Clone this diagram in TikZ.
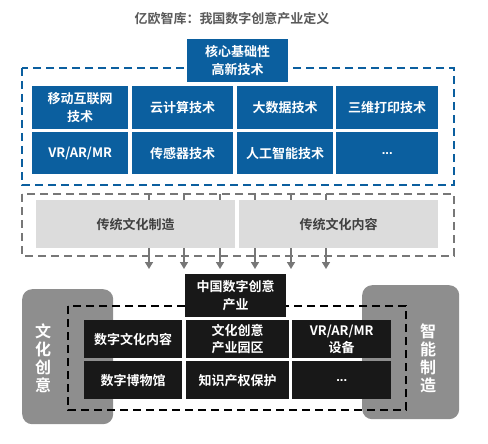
\documentclass[tikz,border=0pt]{standalone}
\usepackage{fontspec}
\setmainfont{Noto Sans CJK SC}[BoldFont={* Bold}]
\newfontfamily\latinfont{Liberation Sans}
\usetikzlibrary{arrows.meta}
\definecolor{cblue}{HTML}{0B5F9F}
\definecolor{clight}{HTML}{DCDCDC}
\definecolor{ctxt}{HTML}{404040}
\definecolor{cside}{HTML}{8E8E8E}
\definecolor{cblack}{HTML}{181818}
\definecolor{carrow}{HTML}{777777}
\definecolor{ctitle}{HTML}{595959}
\tikzset{
  box/.style={minimum width=#1, inner sep=0pt, align=center, font=\fontsize{13}{17.5}\selectfont\bfseries, anchor=north west},
  bluebox/.style={box=#1, fill=cblue, text=white},
  greybox/.style={box=#1, fill=clight, text=ctxt},
  blackbox/.style={box=#1, fill=cblack, text=white},
  sidebox/.style={fill=cside, rounded corners=10pt, draw=none},
  sidetext/.style={text=white, font=\fontsize{16}{18}\selectfont\bfseries, align=center},
  frame/.style={draw=#1, line width=1.8pt, dash pattern=on 8pt off 5pt},
  flow/.style={draw=carrow, line width=1.5pt, -{Triangle[length=7pt,width=8pt]}},
}
\begin{document}
\begin{tikzpicture}[x=1pt,y=-1pt]
\useasboundingbox (0,0) rectangle (488,444);
% title
\node[font=\fontsize{13}{15}\selectfont\bfseries, text=ctitle] (title) at (232,19) {亿欧智库：我国数字创意产业定义};
% blue frame
\draw[frame=cblue] (22,68) rectangle (454,185);
\node[bluebox=101pt, minimum height=43pt] (core) at (187,39) {核心基础性\\高新技术};
\node[bluebox=96pt, minimum height=43pt] (a1) at (32,86) {移动互联网\\技术};
\node[bluebox=101pt, minimum height=43pt] (a2) at (132,86) {云计算技术};
\node[bluebox=96pt, minimum height=43pt] (a3) at (237,86) {大数据技术};
\node[bluebox=102pt, minimum height=43pt] (a4) at (336,86) {三维打印技术};
\node[bluebox=96pt, minimum height=42pt] (b1) at (32,132) {VR/AR/MR};
\node[bluebox=101pt, minimum height=42pt] (b2) at (132,132) {传感器技术};
\node[bluebox=96pt, minimum height=42pt] (b3) at (237,132) {人工智能技术};
\node[bluebox=102pt, minimum height=42pt] (b4) at (336,132) {\latinfont\bfseries ...};
% grey frame and arrows
\draw[frame=carrow] (22,194) rectangle (454,256);
\foreach \i/\x in {1/149,2/184,3/220,4/255,5/291,6/326}{
  \coordinate (s\i) at (\x,194);
  \coordinate (e\i) at (\x,269);
  \draw[flow] (s\i) -- (e\i);
}
\node[greybox=199pt, minimum height=48pt] (g1) at (36,200) {传统文化制造};
\node[greybox=199pt, minimum height=48pt] (g2) at (239,200) {传统文化内容};
% bottom
\node[sidebox, minimum width=91pt, minimum height=135pt, anchor=north west] (left) at (22,289) {};
\node[sidebox, minimum width=97pt, minimum height=134pt, anchor=north west] (right) at (362,285) {};
\node[sidetext] (lt) at (43,358) {文\\化\\创\\意};
\node[sidetext] (rt) at (428,358) {智\\能\\制\\造};
\draw[frame=black] (68,306) rectangle (406,410);
\node[blackbox=101pt, minimum height=43pt] (china) at (185,274) {中国数字创意\\产业};
\node[blackbox=98pt, minimum height=38pt] (c1) at (84,320) {数字文化内容};
\node[blackbox=103pt, minimum height=38pt] (c2) at (186,320) {文化创意\\产业园区};
\node[blackbox=99pt, minimum height=38pt] (c3) at (292,320) {VR/AR/MR\\设备};
\node[blackbox=98pt, minimum height=38pt] (d1) at (84,361) {数字博物馆};
\node[blackbox=103pt, minimum height=38pt] (d2) at (186,361) {知识产权保护};
\node[blackbox=99pt, minimum height=38pt] (d3) at (292,361) {\latinfont\bfseries ...};
\end{tikzpicture}
\end{document}
